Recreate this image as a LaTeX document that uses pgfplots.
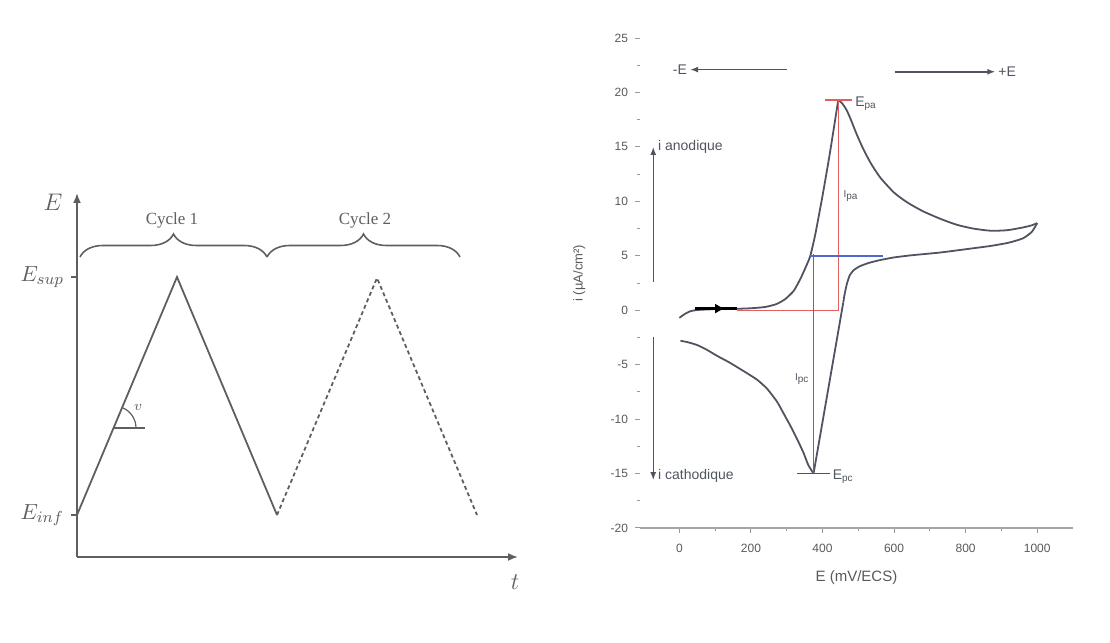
\documentclass[border=0pt]{standalone}
\usepackage{pgfplots}
\pgfplotsset{compat=1.18}
\usepackage{fontspec}
\setmainfont{Liberation Serif}
\setsansfont{Liberation Sans}
\usetikzlibrary{arrows.meta,decorations.pathreplacing}
\definecolor{curve}{RGB}{80,84,96}
\definecolor{axgray}{RGB}{95,95,95}
\definecolor{redl}{RGB}{225,95,95}
\definecolor{bluel}{RGB}{80,105,205}
\begin{document}
\begin{tikzpicture}
\path (0,0) rectangle (555pt,321.5pt);
% ---------------- left panel ----------------
\begin{axis}[
  at={(38.5pt,43pt)}, anchor=south west, scale only axis,
  width=220.5pt, height=182pt,
  xmin=0, xmax=4.41, ymin=0, ymax=3.64,
  axis lines=left,
  axis line style={axgray, line width=0.9pt, -{Latex[length=5pt,width=4pt]}},
  xtick=\empty,
  ytick={0.42,2.8}, yticklabels={$E_{inf}$,$E_{sup}$},
  tick align=outside, major tick length=3pt,
  tick style={axgray, line width=0.6pt},
  yticklabel style={font=\fontsize{11}{13}\selectfont, text=axgray},
  clip=false,
]
\addplot[axgray, line width=0.9pt] coordinates {(0,0.42) (1,2.8) (2,0.42)};
\addplot[axgray, line width=0.9pt, dash pattern=on 2pt off 1.5pt] coordinates {(2,0.42) (3,2.79) (4,0.42)};
\addplot[axgray, line width=0.8pt] coordinates {(0.37,1.29) (0.68,1.29)};
\draw[axgray, line width=0.6pt] (axis cs:0.37,1.29) ++(11pt,0) arc[start angle=0, end angle=67, radius=11pt];
\node[text=axgray, font=\fontsize{7}{8}\selectfont] at (axis cs:0.61,1.5) {$v$};
\draw[axgray, line width=0.8pt, decorate, decoration={brace, amplitude=11.5pt}] (axis cs:0.03,3.0) -- (axis cs:1.9,3.0);
\draw[axgray, line width=0.8pt, decorate, decoration={brace, amplitude=11.5pt}] (axis cs:1.9,3.0) -- (axis cs:3.83,3.0);
\node[text=axgray, font=\fontsize{8.5}{10}\selectfont] at (axis cs:0.95,3.37) {Cycle 1};
\node[text=axgray, font=\fontsize{8.5}{10}\selectfont] at (axis cs:2.88,3.37) {Cycle 2};
\node[text=axgray, font=\fontsize{12}{14}\selectfont] at (axis cs:-0.24,3.55) {$E$};
\node[text=axgray, font=\fontsize{12}{14}\selectfont] at (axis cs:4.38,-0.25) {$t$};
\end{axis}
% ---------------- right panel ----------------
\begin{axis}[
  at={(320pt,57.5pt)}, anchor=south west, scale only axis,
  width=216.5pt, height=245pt,
  xmin=-110, xmax=1100, ymin=-20, ymax=25,
  axis x line=bottom, axis y line=left,
  x axis line style={-, gray!70, line width=0.8pt},
  y axis line style={draw=none},
  xtick={0,200,...,1000}, minor x tick num=1,
  ytick={-20,-15,...,25}, minor y tick num=1,
  tick align=outside, major tick length=2.5pt, minor tick length=1.5pt,
  tick style={gray!80, line width=0.5pt},
  /pgf/number format/assume math mode=true,
  /pgf/number format/set thousands separator={},
  tick label style={font=\sffamily\fontsize{6}{7}\selectfont, text=gray!70!black},
  xticklabel style={yshift=-2pt},
  xlabel={E (mV/ECS)},
  xlabel style={font=\sffamily\fontsize{7.5}{9}\selectfont, text=gray!70!black, yshift=-2pt},
  ylabel={i (µA/cm²)},
  ylabel style={font=\sffamily\fontsize{6.5}{8}\selectfont, text=gray!70!black, at={(axis description cs:-0.11,0.52)}},
  clip=false,
]
% forward scan
\addplot[curve, line width=0.9pt, smooth, tension=0.35] coordinates {
(0,-0.7) (15,-0.35) (30,-0.1) (50,0.02) (100,0.1) (150,0.12) (200,0.18) (240,0.3)
(270,0.55) (295,1.0) (320,1.8) (340,3.0) (355,4.1) (366,5.0) (380,7.0) (400,10.5) (420,14.3) (444,19.3)};
\addplot[curve, line width=0.9pt, smooth, tension=0.4] coordinates {
(444,19.3) (455,19.0) (467,18.4) (478,17.6) (495,16.2) (514,14.8) (535,13.5) (561,12.2) (600,10.8)
(637,9.9) (680,9.1) (729,8.4) (775,7.85) (821,7.5) (870,7.3) (916,7.35) (960,7.6) (985,7.8) (1000,8.0)};
% reverse scan
\addplot[curve, line width=0.9pt, smooth, tension=0.35] coordinates {
(1000,8.0) (985,7.2) (960,6.6) (920,6.2) (869,5.9) (800,5.6) (729,5.3) (650,5.05) (600,4.85)
(560,4.6) (530,4.35) (505,4.05) (488,3.7) (476,3.2) (468,2.4) (462,1.5) (458,0.7)};
\addplot[curve, line width=0.9pt] coordinates {(458,0.7) (375,-15)};
\addplot[curve, line width=0.9pt, smooth, tension=0.3] coordinates {
(375,-15) (360,-14.2) (347,-13.1) (330,-11.9) (310,-10.6) (290,-9.4) (273,-8.4) (245,-7.2)
(218,-6.4) (190,-5.8) (170,-5.4) (140,-4.8) (106,-4.2) (75,-3.6) (50,-3.2) (25,-2.95) (3,-2.8)};
% red construction
\addplot[redl, line width=0.7pt] coordinates {(160,0) (445,0)};
\addplot[redl, line width=0.7pt] coordinates {(445,0) (445,19.3)};
\addplot[redl, line width=0.8pt] coordinates {(408,19.3) (483,19.3)};
% blue construction
\addplot[bluel, line width=0.8pt] coordinates {(375,-15) (375,5.2)};
\addplot[bluel, line width=0.8pt] coordinates {(365,5.0) (570,5.0)};
\addplot[curve, line width=0.7pt] coordinates {(330,-15) (420,-15)};
% scan direction arrow
\addplot[black, line width=1.6pt] coordinates {(45,0.15) (160,0.15)};
\addplot[black, line width=1.2pt, -{Latex[length=5pt,width=5pt]}] coordinates {(45,0.15) (128,0.15)};
% potential direction arrows
\addplot[curve, line width=0.8pt, -{Latex[length=4pt,width=3pt]}] coordinates {(300,22.1) (30,22.1)};
\addplot[curve, line width=0.8pt, -{Latex[length=4pt,width=3pt]}] coordinates {(603,21.9) (883,21.9)};
\node[anchor=east, inner sep=1pt, font=\sffamily\fontsize{7}{8}\selectfont, text=curve] at (axis cs:28,22.1) {-E};
\node[anchor=west, inner sep=1pt, font=\sffamily\fontsize{7}{8}\selectfont, text=curve] at (axis cs:885,21.9) {+E};
% current direction arrows
\addplot[curve, line width=0.7pt, -{Latex[length=4pt,width=3pt]}] coordinates {(-73,2.6) (-73,15)};
\addplot[curve, line width=0.7pt, -{Latex[length=4pt,width=3pt]}] coordinates {(-73,-2.5) (-73,-15.6)};
\node[anchor=west, inner sep=1pt, font=\sffamily\fontsize{7}{8}\selectfont, text=curve] at (axis cs:-66,15) {i anodique};
\node[anchor=west, inner sep=1pt, font=\sffamily\fontsize{7}{8}\selectfont, text=curve] at (axis cs:-66,-15.2) {i cathodique};
% peak labels
\node[anchor=west, inner sep=1pt, font=\sffamily\fontsize{7}{8}\selectfont, text=curve] at (axis cs:485,19) {E\textsubscript{pa}};
\node[anchor=west, inner sep=1pt, font=\sffamily\fontsize{7}{8}\selectfont, text=curve] at (axis cs:422,-15.3) {E\textsubscript{pc}};
\node[anchor=west, inner sep=1pt, font=\sffamily\fontsize{5}{6}\selectfont, text=curve] at (axis cs:452,10.5) {I\textsubscript{pa}};
\node[anchor=east, inner sep=1pt, font=\sffamily\fontsize{5}{6}\selectfont, text=curve] at (axis cs:370,-6.3) {I\textsubscript{pc}};
\end{axis}
\end{tikzpicture}
\end{document}
